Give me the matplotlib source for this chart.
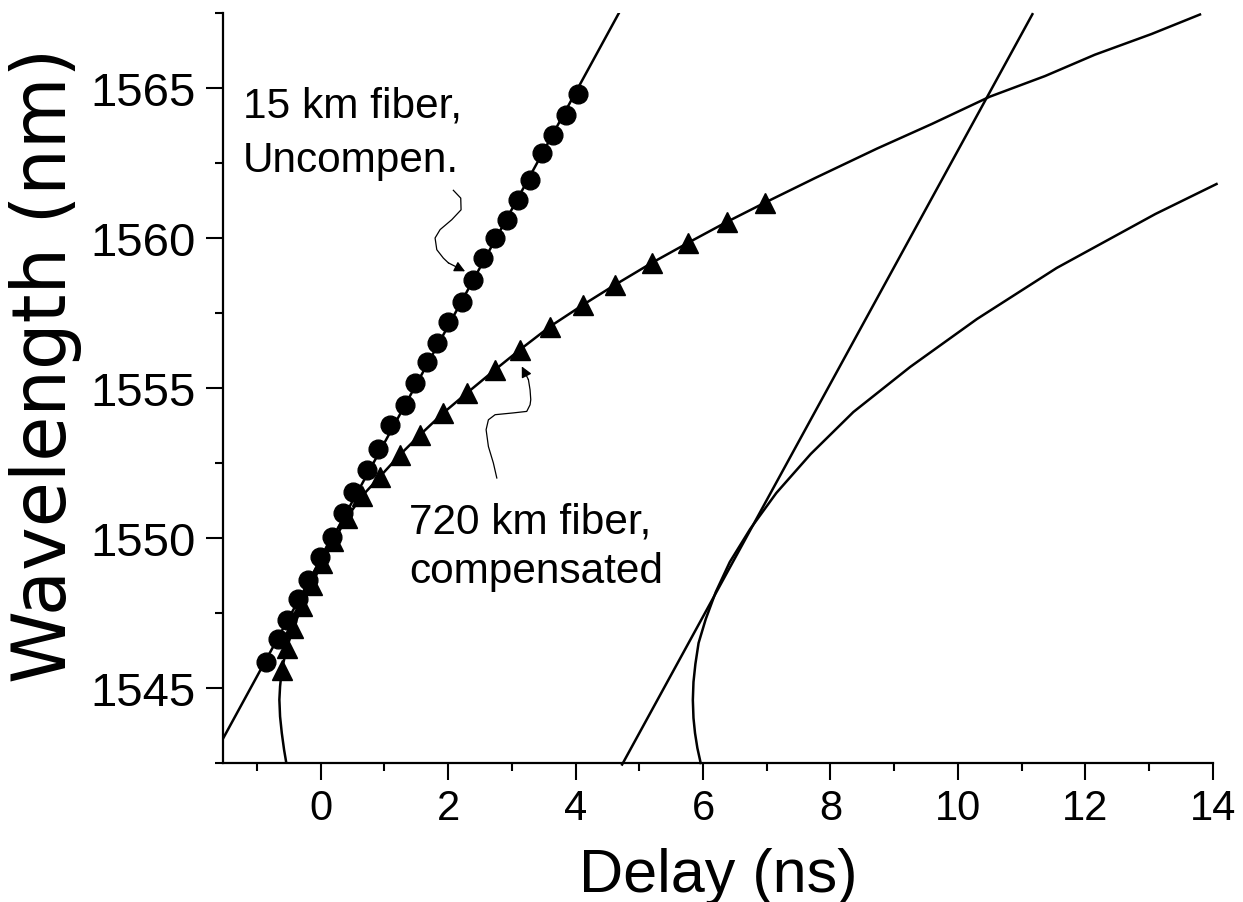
import matplotlib
matplotlib.use("Agg")
import matplotlib.pyplot as plt
from matplotlib.ticker import MultipleLocator

# ---------------- data ----------------
# 15 km fiber, uncompensated (circles)
circ_delay = [-0.859, -0.670, -0.529, -0.356, -0.199, -0.011, 0.177, 0.350,
              0.507, 0.727, 0.899, 1.088, 1.323, 1.480, 1.669, 1.826, 1.998,
              2.218, 2.391, 2.548, 2.736, 2.925, 3.097, 3.286, 3.473, 3.646,
              3.850, 4.039]
circ_wl = [1545.88, 1546.64, 1547.28, 1547.98, 1548.61, 1549.38, 1550.04,
           1550.84, 1551.54, 1552.28, 1552.98, 1553.78, 1554.44, 1555.18,
           1555.88, 1556.51, 1557.21, 1557.88, 1558.61, 1559.34, 1560.01,
           1560.61, 1561.28, 1561.94, 1562.84, 1563.44, 1564.11, 1564.81]

# 720 km fiber, compensated (triangles)
tri_delay = [-0.612, -0.534, -0.430, -0.298, -0.141, 0.016, 0.198, 0.408,
             0.644, 0.931, 1.245, 1.559, 1.924, 2.292, 2.736, 3.128, 3.599,
             4.122, 4.619, 5.195, 5.765, 6.377, 6.973]
tri_wl = [1545.61, 1546.33, 1547.00, 1547.72, 1548.44, 1549.17, 1549.89,
          1550.67, 1551.39, 1552.05, 1552.78, 1553.44, 1554.17, 1554.83,
          1555.61, 1556.28, 1557.05, 1557.78, 1558.44, 1559.17, 1559.84,
          1560.54, 1561.18]

# fitted curve through the uncompensated data
fit_unc_delay = [-1.53, 4.69]
fit_unc_wl = [1543.33, 1567.54]

# fitted curve through the compensated data
fit_comp_delay = [-0.545, -0.576, -0.612, -0.639, -0.650, -0.639, -0.612,
                  -0.534, -0.430, -0.298, -0.141, 0.016, 0.198, 0.408, 0.644,
                  0.931, 1.245, 1.559, 1.924, 2.292, 2.736, 3.128, 3.599,
                  4.122, 4.619, 5.195, 5.765, 6.377, 6.973, 7.76, 8.73,
                  9.59, 10.50, 11.37, 12.15, 13.04, 13.80]
fit_comp_wl = [1542.55, 1542.94, 1543.50, 1544.05, 1544.61, 1545.05, 1545.61,
               1546.33, 1547.00, 1547.72, 1548.44, 1549.17, 1549.89, 1550.67,
               1551.39, 1552.05, 1552.78, 1553.44, 1554.17, 1554.83, 1555.61,
               1556.28, 1557.05, 1557.78, 1558.44, 1559.17, 1559.84, 1560.54,
               1561.18, 1562.00, 1562.98, 1563.80, 1564.71, 1565.40, 1566.11,
               1566.80, 1567.45]

# shifted curves on the right
shift_line_delay = [4.73, 11.17]
shift_line_wl = [1542.45, 1567.46]

shift_curve_delay = [5.963, 5.911, 5.874, 5.850, 5.840, 5.850, 5.880, 5.930,
                     6.043, 6.200, 6.420, 6.740, 7.150, 7.690, 8.360, 9.250,
                     10.30, 11.55, 13.10, 14.06]
shift_curve_wl = [1542.50, 1543.00, 1543.50, 1544.00, 1544.60, 1545.20,
                  1545.80, 1546.50, 1547.30, 1548.20, 1549.20, 1550.30,
                  1551.50, 1552.80, 1554.20, 1555.70, 1557.30, 1559.00,
                  1560.80, 1561.80]

x_ticks = [0, 2, 4, 6, 8, 10, 12, 14]
y_ticks = [1545, 1550, 1555, 1560, 1565]

# ---------------- figure ----------------
plt.rcParams["font.family"] = ["Liberation Sans", "DejaVu Sans"]
fig = plt.figure(figsize=(12.43, 9.03), dpi=100)
ax = fig.add_axes([0.17965, 0.15393, 0.79598, 0.83056])

lw = 1.8
ax.plot(fit_unc_delay, fit_unc_wl, color="k", lw=lw)
ax.plot(fit_comp_delay, fit_comp_wl, color="k", lw=lw)
ax.plot(shift_line_delay, shift_line_wl, color="k", lw=lw, clip_on=False)
ax.plot(shift_curve_delay, shift_curve_wl, color="k", lw=lw, clip_on=False)
ax.plot(circ_delay, circ_wl, linestyle="none", marker="o", ms=13.5,
        color="k")
ax.plot(tri_delay, tri_wl, linestyle="none", marker="^", ms=15, color="k")

ax.set_xlim(-1.53, 14)
ax.set_ylim(1542.5, 1567.5)
ax.set_xticks(x_ticks)
ax.set_yticks(y_ticks)
ax.xaxis.set_minor_locator(MultipleLocator(1))
ax.yaxis.set_minor_locator(MultipleLocator(2.5))

for s in ("top", "right"):
    ax.spines[s].set_visible(False)
for s in ("left", "bottom"):
    ax.spines[s].set_linewidth(1.6)

ax.tick_params(which="major", direction="out", length=12, width=1.5)
ax.tick_params(which="minor", direction="out", length=6, width=1.5)
ax.tick_params(axis="x", which="major", labelsize=30, pad=6)
ax.tick_params(axis="y", which="major", labelsize=34, pad=8)

ax.set_xlabel("Delay (ns)", fontsize=44)
ax.xaxis.label.set_va("baseline")
ax.xaxis.set_label_coords(0.5, -0.170)
ax.set_ylabel("Wavelength (nm)", fontsize=53, family=["DejaVu Sans"])
ax.yaxis.label.set_va("center")
ax.yaxis.label.set_ha("center")
ax.yaxis.set_label_coords(-0.180, 0.532)

# annotations
tfs = 30.5
ax.text(-1.22, 1564.05, "15 km fiber,", fontsize=tfs, va="baseline")
ax.text(-1.22, 1562.22, "Uncompen.", fontsize=tfs, va="baseline")
ax.text(1.386, 1550.19, "720 km fiber,", fontsize=tfs, va="baseline")
ax.text(1.394, 1548.55, "compensated", fontsize=tfs, va="baseline")

a1x = [2.081, 2.197, 2.202, 2.056, 1.873, 1.794, 1.821, 1.924, 2.003]
a1y = [1561.59, 1561.33, 1560.94, 1560.61, 1560.28, 1560.00, 1559.61,
       1559.33, 1559.17]
ax.plot(a1x, a1y, color="k", lw=0.9)
ax.annotate("", xy=(2.265, 1558.89), xytext=(a1x[-1], a1y[-1]),
            arrowprops=dict(arrowstyle="-|>", color="k", lw=0.9,
                            mutation_scale=16, shrinkA=0, shrinkB=0))

a2x = [2.763, 2.709, 2.631, 2.595, 2.631, 2.736, 3.023, 3.233, 3.285,
       3.296, 3.285, 3.259]
a2y = [1552.00, 1552.50, 1553.05, 1553.61, 1553.94, 1554.11, 1554.17,
       1554.22, 1554.44, 1554.61, 1554.94, 1555.28]
ax.plot(a2x, a2y, color="k", lw=0.9)
ax.annotate("", xy=(3.155, 1555.72), xytext=(a2x[-1], a2y[-1]),
            arrowprops=dict(arrowstyle="-|>", color="k", lw=0.9,
                            mutation_scale=16, shrinkA=0, shrinkB=0))

fig.savefig("out.png", dpi=100, facecolor="white")
